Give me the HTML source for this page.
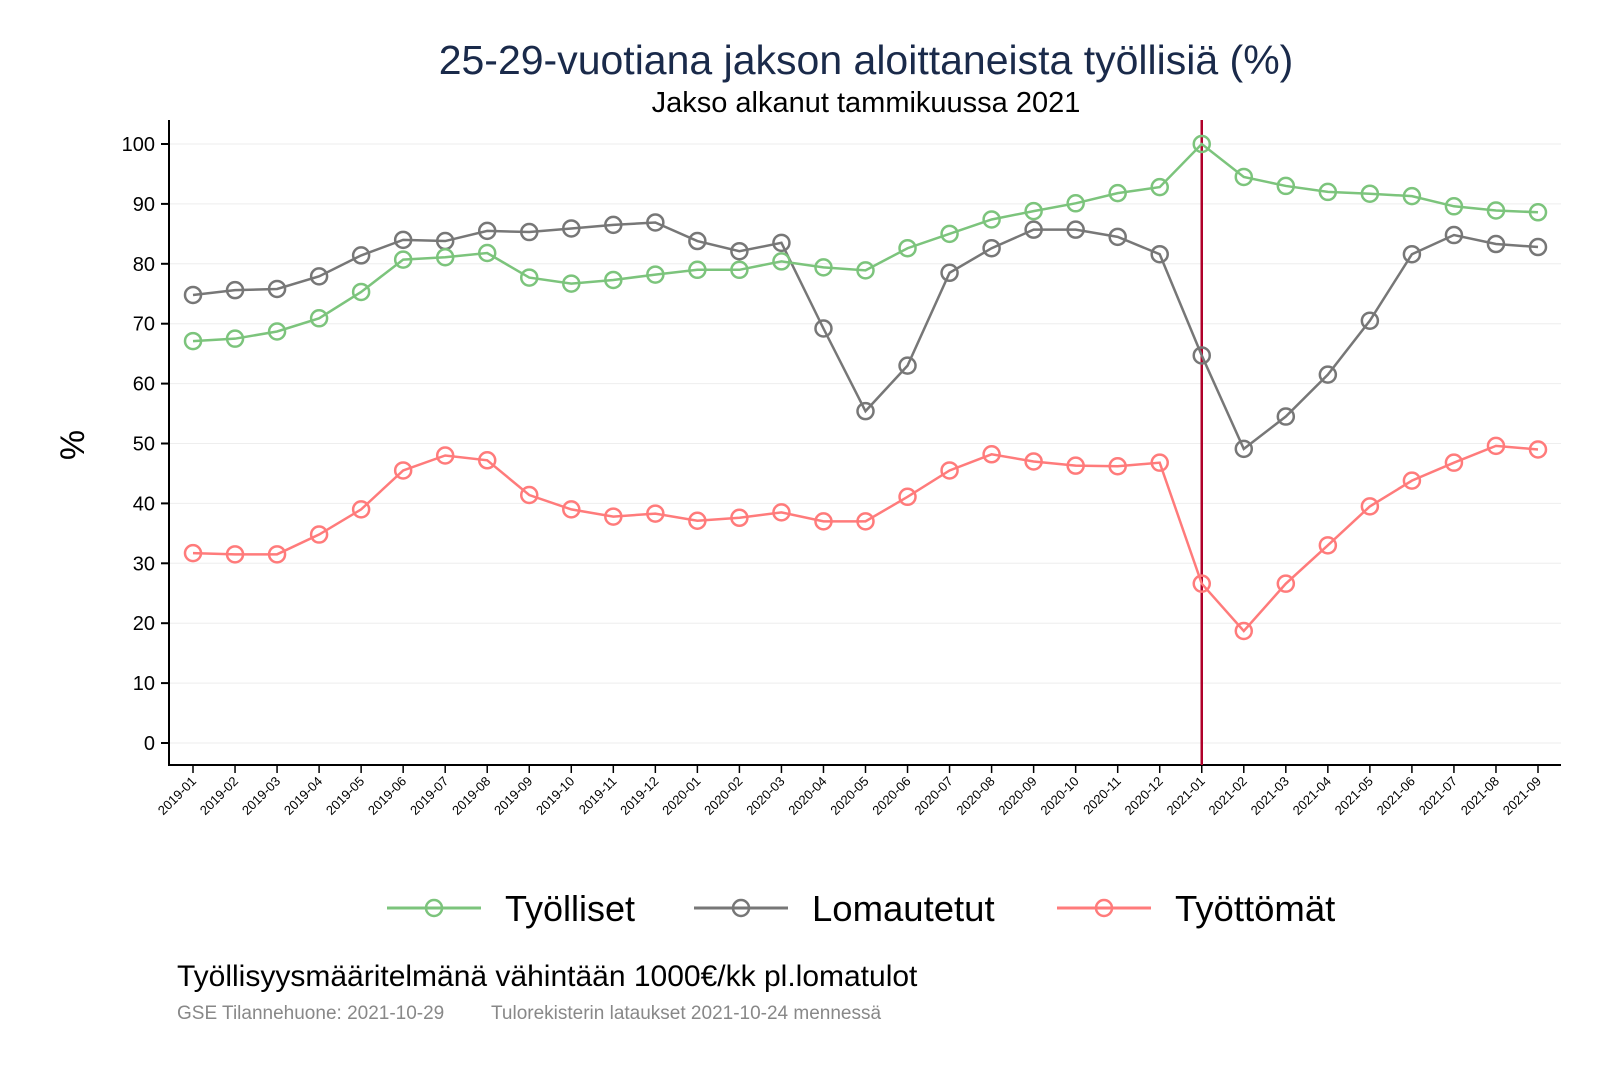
<!DOCTYPE html>
<html><head><meta charset="utf-8"><style>
body{margin:0;background:#fff;}
svg text{font-family:"Liberation Sans",Arial,sans-serif;}
</style></head><body>
<svg id="chart" width="1600" height="1067" xmlns="http://www.w3.org/2000/svg">
<rect width="1600" height="1067" fill="#fff"/>
<text x="866" y="74" font-size="41" text-anchor="middle" fill="#1a2a4a">25-29-vuotiana jakson aloittaneista työllisiä (%)</text>
<text x="866" y="112" font-size="29" text-anchor="middle" fill="#000">Jakso alkanut tammikuussa 2021</text>
<text transform="translate(84,445) rotate(-90)" font-size="34" text-anchor="middle" fill="#000">%</text>
<g id="grid"></g><g id="axes"></g><g id="series"></g>
<g>
 <g><line x1="387" y1="908" x2="481" y2="908" stroke="#7cc47c" stroke-width="3"/><circle cx="434" cy="908" r="8" fill="none" stroke="#7cc47c" stroke-width="2.5"/><text x="505" y="921" font-size="36">Työlliset</text></g>
 <g><line x1="694" y1="908" x2="788" y2="908" stroke="#777" stroke-width="3"/><circle cx="741" cy="908" r="8" fill="none" stroke="#777" stroke-width="2.5"/><text x="812" y="921" font-size="36.5">Lomautetut</text></g>
 <g><line x1="1057" y1="908" x2="1151" y2="908" stroke="#ff7b7b" stroke-width="3"/><circle cx="1104" cy="908" r="8" fill="none" stroke="#ff7b7b" stroke-width="2.5"/><text x="1175" y="921" font-size="36.5">Työttömät</text></g>
</g>
<text x="177" y="986" font-size="30" fill="#000">Työllisyysmääritelmänä vähintään 1000€/kk pl.lomatulot</text>
<text x="177" y="1019" font-size="19" fill="#888">GSE Tilannehuone: 2021-10-29</text>
<text x="491" y="1019" font-size="19" fill="#888">Tulorekisterin lataukset 2021-10-24 mennessä</text>
</svg>
<script>
const categories=["2019-01","2019-02","2019-03","2019-04","2019-05","2019-06","2019-07","2019-08","2019-09","2019-10","2019-11","2019-12","2020-01","2020-02","2020-03","2020-04","2020-05","2020-06","2020-07","2020-08","2020-09","2020-10","2020-11","2020-12","2021-01","2021-02","2021-03","2021-04","2021-05","2021-06","2021-07","2021-08","2021-09"];
const tyolliset=[67.1,67.5,68.7,70.9,75.3,80.7,81.1,81.8,77.7,76.7,77.3,78.2,79.0,79.0,80.4,79.4,78.9,82.6,85.0,87.4,88.8,90.1,91.8,92.8,100,94.5,93.0,92.0,91.7,91.3,89.6,88.9,88.6];
const lomautetut=[74.8,75.6,75.8,77.9,81.4,84.0,83.8,85.5,85.3,85.9,86.5,86.9,83.8,82.1,83.5,69.2,55.4,63.0,78.5,82.6,85.7,85.7,84.5,81.6,64.7,49.1,54.5,61.5,70.5,81.6,84.8,83.3,82.8];
const tyottomat=[31.7,31.5,31.5,34.8,39.0,45.5,48.0,47.2,41.4,39.0,37.8,38.3,37.1,37.6,38.5,37.0,37.0,41.1,45.5,48.2,47.0,46.3,46.2,46.8,26.6,18.7,26.6,33.0,39.5,43.8,46.8,49.6,49.0];
const yTicks=[0,10,20,30,40,50,60,70,80,90,100];
const markerCategory="2021-01";
const NS="http://www.w3.org/2000/svg";
const X0=193,X1=1538,Y0=743,Y100=144,L=169,B=765,R=1561,T=120;
const xs=i=>X0+(X1-X0)*i/(categories.length-1);
const ys=v=>Y0+(Y100-Y0)*v/100;
function mk(tag,attrs,parent){const e=document.createElementNS(NS,tag);for(const k in attrs)e.setAttribute(k,attrs[k]);parent.appendChild(e);return e;}
const grid=document.getElementById('grid'),axes=document.getElementById('axes'),ser=document.getElementById('series');
yTicks.forEach(t=>{
 const g=mk('line',{x1:L,x2:R,y1:ys(t),y2:ys(t),stroke:'#eee','stroke-width':1},grid);
 
 
 const tk=mk('line',{x1:L-8,x2:L,y1:ys(t),y2:ys(t),stroke:'#000','stroke-width':2},axes);
 
 
 const tx=mk('text',{x:L-14,y:ys(t)+7,'font-size':20,'text-anchor':'end'},axes);
 tx.textContent=t;
 
 
});
const ya=mk('line',{x1:L,x2:L,y1:T,y2:B+1,stroke:'#000','stroke-width':2},axes);


const xa=mk('line',{x1:L-1,x2:R,y1:B,y2:B,stroke:'#000','stroke-width':2},axes);


categories.forEach((c,i)=>{
 const x=xs(i);
 const tk=mk('line',{x1:x,x2:x,y1:B,y2:B+8,stroke:'#000','stroke-width':1.5},axes);
 
 
 const tx=mk('text',{transform:`translate(${x+4},${B+17}) rotate(-45)`,'font-size':13,'text-anchor':'end'},axes);
 tx.textContent=c;
 
 
});
const vi=categories.indexOf(markerCategory);
const vl=mk('line',{x1:xs(vi),x2:xs(vi),y1:T,y2:B,stroke:'#b0002a','stroke-width':2.5},ser);


[[lomautetut,'#777','lomautetut'],[tyolliset,'#7cc47c','tyolliset'],[tyottomat,'#ff7b7b','tyottomat']].forEach(([d,col,n])=>{
 const p=mk('polyline',{points:d.map((v,i)=>xs(i)+','+ys(v)).join(' '),fill:'none',stroke:col,'stroke-width':2.5},ser);
 
 
 d.forEach((v,i)=>{
  const c=mk('circle',{cx:xs(i),cy:ys(v),r:8,fill:'none',stroke:col,'stroke-width':2.5},ser);
  
  
 });
});
</script>
</body></html>
